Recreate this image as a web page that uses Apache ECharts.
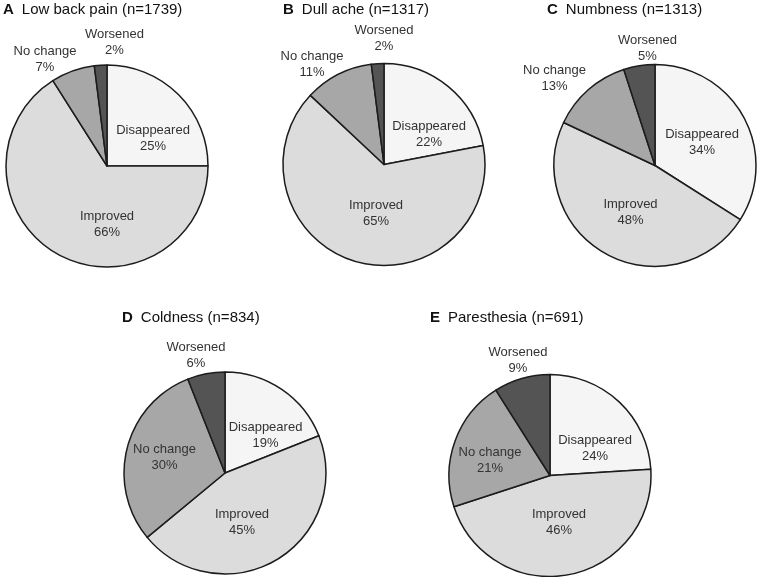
<!DOCTYPE html>
<html>
<head>
<meta charset="utf-8">
<script src="https://cdn.jsdelivr.net/npm/echarts@6/dist/echarts.min.js"></script>
<style>
html,body{margin:0;padding:0;background:#fff;}
#chart{width:763px;height:577px;}
</style>
</head>
<body>
<div id="chart"></div>
<script>
// ---- data ----
const categories = ['Disappeared', 'Improved', 'No change', 'Worsened'];
const panelLetters = ['A', 'B', 'C', 'D', 'E'];
const panelTitles = ['Low back pain (n=1739)', 'Dull ache (n=1317)', 'Numbness (n=1313)', 'Coldness (n=834)', 'Paresthesia (n=691)'];
const lowBackPain = [25, 66, 7, 2];
const dullAche = [22, 65, 11, 2];
const numbness = [34, 48, 13, 5];
const coldness = [19, 45, 30, 6];
const paresthesia = [24, 46, 21, 9];

// ---- layout / style ----
const seriesValues = [lowBackPain, dullAche, numbness, coldness, paresthesia];
const centers = [[107, 166], [384, 164.5], [655, 165.5], [225, 473], [550, 475.5]];
const radius = 101;
const titlePos = [[3, 1], [283, 1], [547, 1], [122, 309], [430, 309]];
const sliceColors = ['#f5f5f5', '#dcdcdc', '#a7a7a7', '#545454'];
// label anchor offsets from pie center (px)
const labelOffsets = [
  [[46, -28], [0, 58], [-62, -107], [7.5, -124]],
  [[45, -30.5], [-8, 48.5], [-72, -100], [0, -126.5]],
  [[47, -23], [-24.5, 47.4], [-100.5, -87], [-7.5, -117.3]],
  [[40.5, -37.5], [17, 49.7], [-60.5, -15.7], [-29, -118]],
  [[45, -27], [9, 47], [-60, -15.5], [-32, -115]]
];

const FONT = '"Liberation Sans", Arial, sans-serif';

const chart = echarts.init(document.getElementById('chart'), null, {renderer: 'canvas'});

const titles = panelLetters.map((l, i) => ({
  text: '{b|' + l + '}{t|' + panelTitles[i] + '}',
  left: titlePos[i][0],
  top: titlePos[i][1],
  padding: 0,
  textStyle: {
    rich: {
      b: {fontFamily: FONT, fontSize: 15, fontWeight: 'bold', color: '#111', padding: [0, 8, 0, 0], lineHeight: 18},
      t: {fontFamily: FONT, fontSize: 15, fontWeight: 'normal', color: '#111', lineHeight: 18}
    }
  }
}));

const series = seriesValues.map((vals, si) => ({
  type: 'pie',
  center: centers[si],
  radius: radius,
  startAngle: 90,
  clockwise: true,
  avoidLabelOverlap: false,
  silent: true,
  animation: false,
  data: categories.map((c, k) => ({
    name: c,
    value: vals[k],
    itemStyle: {color: sliceColors[k]}
  })),
  itemStyle: {borderColor: '#1c1c1c', borderWidth: 1.5},
  label: {
    show: true,
    position: 'inside',
    formatter: '{b}\n{c}%',
    fontFamily: FONT,
    fontSize: 13,
    lineHeight: 16,
    color: '#333',
    align: 'center'
  },
  labelLine: {show: false},
  labelLayout: function (p) {
    const o = labelOffsets[si][p.dataIndex];
    return {
      x: centers[si][0] + o[0],
      y: centers[si][1] + o[1],
      align: 'center',
      verticalAlign: 'middle'
    };
  }
}));

chart.setOption({
  backgroundColor: '#ffffff',
  animation: false,
  title: titles,
  series: series
});
</script>
</body>
</html>
